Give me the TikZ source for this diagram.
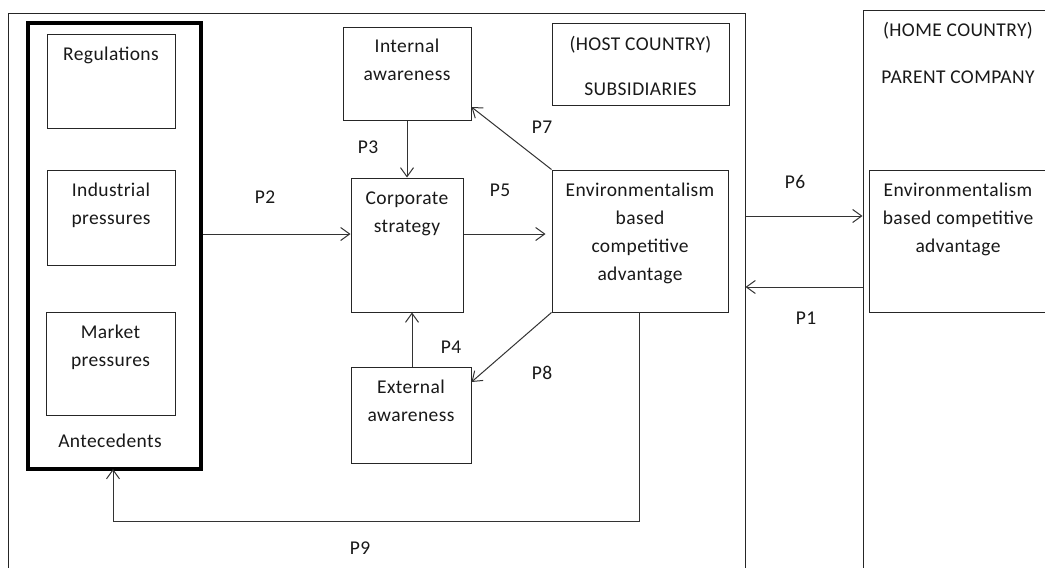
\documentclass[tikz,border=0pt]{standalone}
\usepackage{fontspec}
\setmainfont{Carlito}[LetterSpace=2.0]
\usetikzlibrary{arrows.meta,calc}
\newcommand\fl{\rule{0pt}{15pt}}
\begin{document}
\begin{tikzpicture}[x=1pt,y=-1pt,
  box/.style={draw=black!85, line width=1pt, minimum width=#1, inner sep=0pt},
  lbl/.style={align=center, inner sep=0pt, anchor=north, text=black!90, font=\fontsize{19.5}{28}\selectfont},
  plab/.style={inner sep=0pt, text=black!90, font=\fontsize{19.5}{28}\selectfont},
  arr/.style={draw=black!80, line width=1pt, -{Straight Barb[length=9pt,width=13pt,line width=1pt]}},
  ln/.style={draw=black!80, line width=1pt}]
\clip (0,0) rectangle (1045,568);
\fill[white] (0,0) rectangle (1045,568);
% outer frames
\node[box=737pt, minimum height=567pt] (host) at (376.5,296.5) {};
\node[box=197pt, minimum height=570pt] (home) at (961.5,295) {};
% antecedents
\node[box=173pt, minimum height=446pt, line width=3.5pt, draw=black] (ante) at (114.5,246) {};
\node[box=128pt, minimum height=94pt] (reg) at (111,81) {};
\node[box=128pt, minimum height=95pt] (ind) at (111,217.5) {};
\node[box=129pt, minimum height=103pt] (mkt) at (110.5,363.5) {};
% middle boxes
\node[box=128pt, minimum height=93pt] (intl) at (407,73.5) {};
\node[box=177pt, minimum height=82pt] (hostlbl) at (640.5,64) {};
\node[box=112pt, minimum height=134pt] (corp) at (407,245) {};
\node[box=176pt, minimum height=142pt] (env) at (640,241) {};
\node[box=120pt, minimum height=96pt] (ext) at (411,415) {};
\node[box=191pt, minimum height=142pt] (henv) at (964.5,241) {};
% texts
\node[lbl] (treg) at (111,45) {\fl Regulations};
\node[lbl] (tind) at (111,181) {\fl Industrial\\pressures};
\node[lbl] (tmkt) at (110.5,323) {\fl Market\\pressures};
\node[lbl] (tante) at (110,432) {\fl Antecedents};
\node[lbl] (tintl) at (407,37) {\fl Internal\\awareness};
\node[lbl] (tcorp) at (407,189) {\fl Corporate\\strategy};
\node[lbl] (text) at (411,378) {\fl External\\awareness};
\node[lbl] (thost) at (640.5,35) {\fl (HOST COUNTRY)\\[17pt]SUBSIDIARIES};
\node[lbl] (thome) at (958,21) {\fl (HOME COUNTRY)\\[19pt]PARENT COMPANY};
\node[lbl] (tenv) at (640,181) {\fl Environmentalism\\based\\competitive\\advantage};
\node[lbl] (thenv) at (958,181) {\fl Environmentalism\\based competitive\\advantage};
% helper coordinates
\coordinate (y234) at (0,234);
\coordinate (y107) at (0,107);
\coordinate (y382) at (0,382);
\coordinate (y216) at (0,216);
\coordinate (y287) at (0,287);
\coordinate (x412) at (412,0);
\coordinate (p9a) at (639,312);
\coordinate (p9b) at (639,521);
\coordinate (p9c) at (113,469);
% connectors
\draw[arr] (ante.east |- y234) -- (corp.west |- y234);
\draw[arr, shorten >=6pt] (corp.east |- y234) -- (env.west |- y234);
\draw[arr] (intl.south -| corp.north) -- (corp.north);
\draw[arr] (env.north west) -- (intl.east |- y107);
\draw[arr] (ext.north -| x412) -- (corp.south -| x412);
\draw[arr] (env.south west) -- (ext.east |- y382);
\draw[arr] (p9a) -- (p9b) -| (p9c);
\draw[arr] (host.east |- y216) -- (home.west |- y216);
\draw[arr] (home.west |- y287) -- (host.east |- y287);
% proposition labels
\node[plab] (P2) at (265,197) {P2};
\node[plab] (P3) at (368,147) {P3};
\node[plab] (P5) at (500,190) {P5};
\node[plab] (P7) at (542,127) {P7};
\node[plab] (P4) at (451,347) {P4};
\node[plab] (P8) at (542,373) {P8};
\node[plab] (P9) at (360,548) {P9};
\node[plab] (P6) at (795,182) {P6};
\node[plab] (P1) at (806,318) {P1};
\end{tikzpicture}
\end{document}
